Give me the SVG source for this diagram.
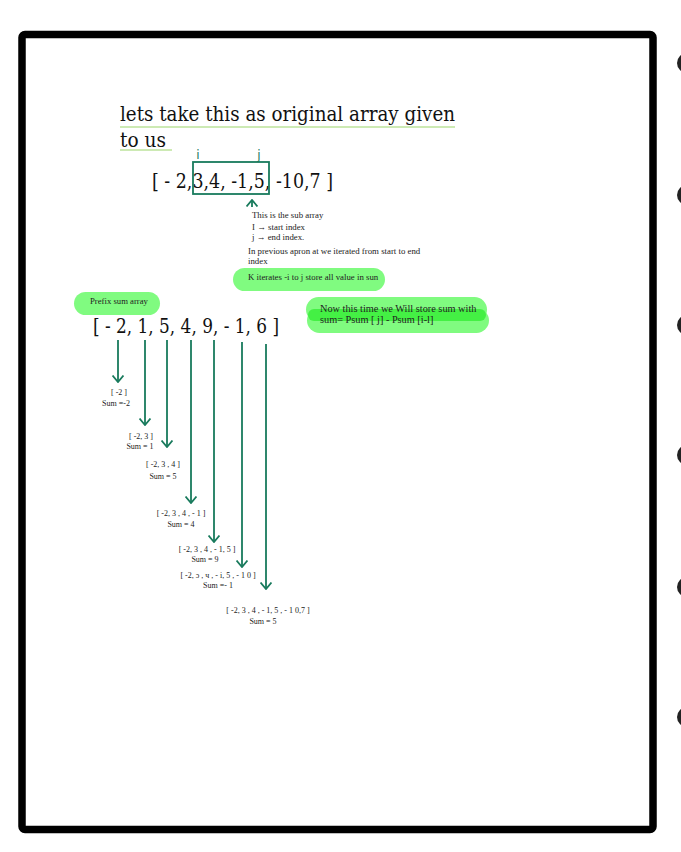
<svg xmlns="http://www.w3.org/2000/svg" width="681" height="852" viewBox="0 0 681 852">
<style>
.big{font-family:"DejaVu Serif","Liberation Serif",serif;font-size:21px;fill:#111}
.sm{font-family:"Liberation Serif","DejaVu Serif",serif;font-size:8.8px;fill:#222}
.lbl{font-family:"Liberation Serif","DejaVu Serif",serif;font-size:8px;fill:#222;text-anchor:middle}
.gr{font-family:"DejaVu Sans","Liberation Sans",sans-serif;font-size:12px;fill:#187a5c}
.arr{stroke:#187a5c;stroke-width:1.8;fill:none}
</style>
<defs>
<marker id="chev" viewBox="0 0 8 12" refX="7" refY="6" markerWidth="8" markerHeight="12" markerUnits="userSpaceOnUse" orient="auto">
<path d="M0.5,0.5 L7,6 L0.5,11.5" fill="none" stroke="#187a5c" stroke-width="1.8"/>
</marker>
</defs>
<rect width="681" height="852" fill="#fff"/>
<rect x="22" y="34.5" width="631" height="795" rx="3" fill="none" stroke="#000" stroke-width="7.5"/>
<g fill="#222">
<circle cx="687" cy="63" r="10"/>
<circle cx="687" cy="195" r="10"/>
<circle cx="687" cy="325" r="10"/>
<circle cx="687" cy="455" r="10"/>
<circle cx="687" cy="587" r="10"/>
<circle cx="687" cy="717" r="10"/>
</g>
<g id="title">
<text class="big" x="120" y="121" textLength="335" lengthAdjust="spacingAndGlyphs">lets take this as original array given</text>
<text class="big" x="120" y="147" textLength="46" lengthAdjust="spacingAndGlyphs">to us</text>
<line x1="120" y1="127" x2="455" y2="127" stroke="#9bd66b" stroke-width="1.2"/>
<line x1="120" y1="150" x2="172" y2="150" stroke="#9bd66b" stroke-width="1.2"/>
</g>
<g id="original-array">
<text class="big" x="152" y="188" textLength="181" lengthAdjust="spacingAndGlyphs">[ - 2,3,4, -1,5, -10,7 ]</text>
<rect x="193" y="162" width="76" height="32" fill="none" stroke="#187a5c" stroke-width="1.8"/>
<text class="gr" x="198" y="159" text-anchor="middle">i</text>
<text class="gr" x="259" y="159" text-anchor="middle">j</text>
</g>
<g id="subarray-note">
<text class="sm" x="252" y="218">This is the sub array</text>
<text class="sm" x="252" y="230">I → start index</text>
<text class="sm" x="252" y="240">j → end index.</text>
<text class="sm" x="248" y="254">In previous apron at we iterated from start to end</text>
<text class="sm" x="248" y="264">index</text>
</g>
<g id="k-pill">
<rect x="233" y="268" width="152" height="23" rx="11.5" fill="#80fb80"/>
<text class="sm" x="248" y="280">K iterates -i to j store all value in sun</text>
</g>
<g id="prefix-pill">
<rect x="74" y="292" width="86" height="23" rx="11.5" fill="#80fb80"/>
<text class="sm" x="90" y="304" style="font-size:8.7px">Prefix sum array</text>
</g>
<g id="formula-pill">
<rect x="306" y="297" width="181" height="25" rx="12.5" fill="#80fb80"/>
<rect x="307" y="308" width="182" height="25" rx="12.5" fill="#80fb80"/>
<rect x="308" y="309" width="178" height="12" rx="6" fill="#44f044"/>
<text class="sm" x="320" y="312" style="font-size:10.3px">Now this time we Will store sum with</text>
<text class="sm" x="320" y="323" style="font-size:10.3px">sum= Psum [ j] - Psum [i-l]</text>
</g>
<g id="prefix-array">
<text class="big" x="93" y="333" textLength="186" lengthAdjust="spacingAndGlyphs">[ - 2, 1, 5, 4, 9, - 1, 6 ]</text>
</g>
<g id="connectors">
<path class="arr" d="M252,207 V200" marker-end="url(#chev)"/>
<path class="arr" d="M118,340 V382" marker-end="url(#chev)"/>
<path class="arr" d="M145,340 V425" marker-end="url(#chev)"/>
<path class="arr" d="M167,340 V447" marker-end="url(#chev)"/>
<path class="arr" d="M191,340 V503" marker-end="url(#chev)"/>
<path class="arr" d="M214,340 V542" marker-end="url(#chev)"/>
<path class="arr" d="M242,342 V567" marker-end="url(#chev)"/>
<path class="arr" d="M266,344 V589" marker-end="url(#chev)"/>
</g>
<g id="step1"><text class="lbl" x="119" y="395">[ -2 ]</text><text class="lbl" x="116" y="406">Sum =-2</text></g>
<g id="step2"><text class="lbl" x="141" y="439">[ -2, 3 ]</text><text class="lbl" x="140" y="449">Sum = 1</text></g>
<g id="step3"><text class="lbl" x="163" y="467">[ -2, 3 , 4 ]</text><text class="lbl" x="163" y="479">Sum = 5</text></g>
<g id="step4"><text class="lbl" x="181" y="516">[ -2, 3 , 4 , - 1 ]</text><text class="lbl" x="181" y="527">Sum = 4</text></g>
<g id="step5"><text class="lbl" x="207" y="552">[ -2, 3 , 4 , - 1, 5 ]</text><text class="lbl" x="205" y="562">Sum = 9</text></g>
<g id="step6"><text class="lbl" x="218" y="578">[ -2, ɔ , ч , - i, 5 , - 1 0 ]</text><text class="lbl" x="218" y="588">Sum =- 1</text></g>
<g id="step7"><text class="lbl" x="268" y="613">[ -2, 3 , 4 , - 1, 5 , - 1 0,7 ]</text><text class="lbl" x="263" y="624">Sum = 5</text></g>
</svg>
